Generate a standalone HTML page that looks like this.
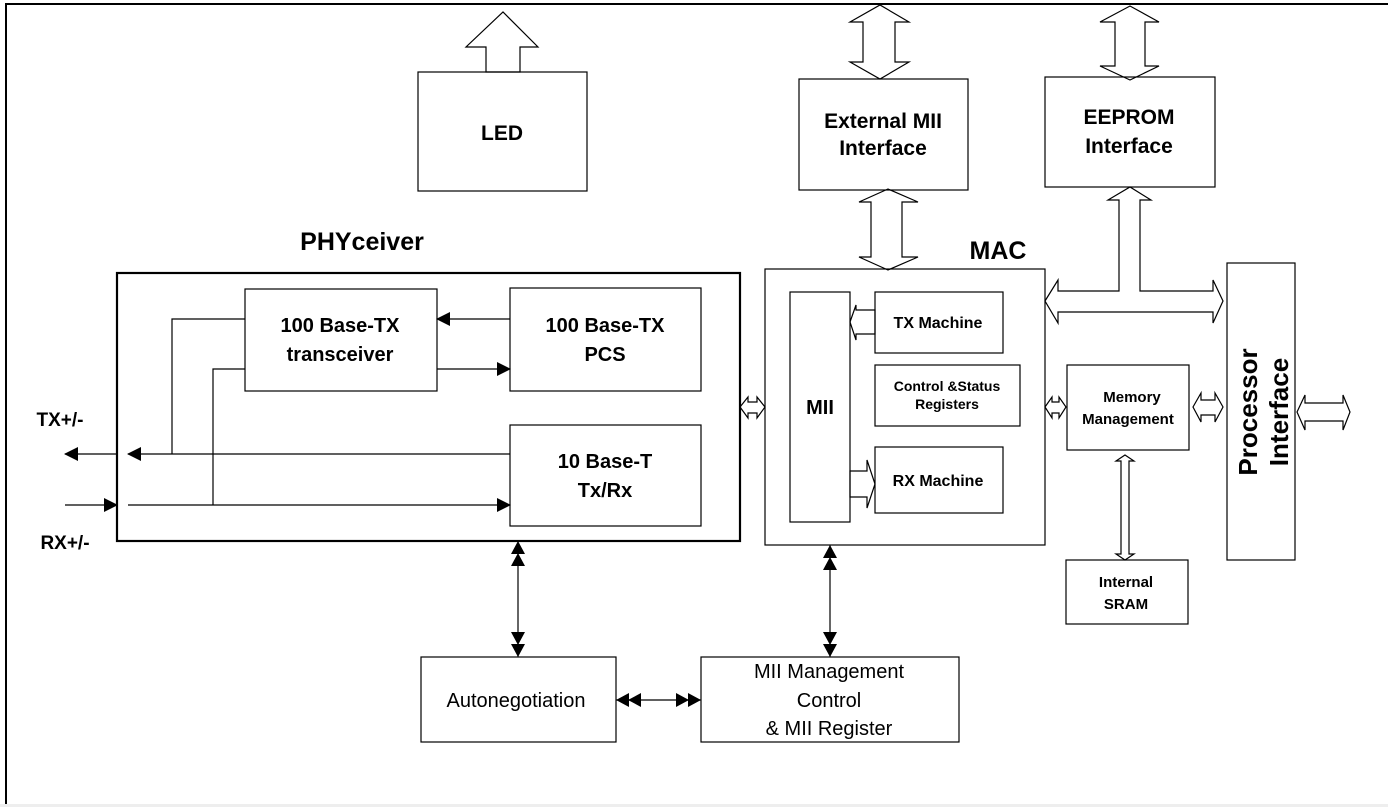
<!DOCTYPE html>
<html><head><meta charset="utf-8"><style>
html,body{margin:0;padding:0;background:#fff}
svg{display:block}
text{font-family:"Liberation Sans",Arial,sans-serif;fill:#000}
.b{font-weight:bold}
</style></head><body>
<svg width="1388" height="807" viewBox="0 0 1388 807" xmlns="http://www.w3.org/2000/svg">
<defs>
<marker id="ah" markerWidth="10" markerHeight="10" refX="9" refY="5" orient="auto" markerUnits="userSpaceOnUse"><path d="M0,0 L10,5 L0,10 z" fill="#000"/></marker>
<marker id="ahs" markerWidth="14" markerHeight="14" refX="13" refY="7" orient="auto" markerUnits="userSpaceOnUse"><path d="M0,0 L14,7 L0,14 z" fill="#000"/></marker>
<marker id="ah2" markerWidth="26" markerHeight="14" refX="25" refY="7" orient="auto" markerUnits="userSpaceOnUse"><path d="M0,0 L13,7 L0,14 z M12,0 L25,7 L12,14 z" fill="#000"/></marker>
</defs>
<!-- frame -->
<line x1="5" y1="4" x2="1388" y2="4" stroke="#000" stroke-width="2"/>
<line x1="6" y1="4" x2="6" y2="805" stroke="#000" stroke-width="2"/>
<rect x="0" y="804" width="1388" height="3" fill="#eee"/>

<g fill="#fff" stroke="#000" stroke-width="1.2">
<!-- LED arrow up -->
<polygon points="486,72 486,47 466,47 503,12 538,47 520,47 520,72"/>
<!-- Ext MII top bidir -->
<polygon points="863,22 850,22 880,5 909,22 895,22 895,62 909,62 880,79 850,62 863,62"/>
<!-- EEPROM top bidir -->
<polygon points="1115,22 1100,22 1130,6 1159,22 1145,22 1145,66 1159,66 1130,80 1100,66 1115,66"/>
<!-- Ext MII to MAC -->
<polygon points="871,202 859,202 888,189 918,202 902,202 902,257 918,257 888,270 859,257 871,257"/>
<!-- EEPROM bus T -->
<polygon points="1045,301 1058,280 1058,291 1119,291 1119,200 1108,200 1130,187 1151,200 1140,200 1140,291 1213,291 1213,280 1223,301 1213,323 1213,312 1058,312 1058,323"/>
<!-- PHY-MAC -->
<polygon points="740,407 748,397 748,402 757,402 757,397 765,407 757,418 757,413 748,413 748,418"/>
<!-- MAC-MemMgmt -->
<polygon points="1045,407 1052,397 1052,402 1059,402 1059,397 1066,407 1059,418 1059,413 1052,413 1052,418"/>
<!-- MemMgmt-Proc -->
<polygon points="1193,407 1201,393 1201,400 1215,400 1215,393 1223,407 1215,422 1215,415 1201,415 1201,422"/>
<!-- Proc-out -->
<polygon points="1297,412 1305,395 1305,403 1343,403 1343,395 1350,412 1343,430 1343,421 1305,421 1305,430"/>
<!-- MemMgmt-SRAM -->
<polygon points="1125,455 1134,461 1129,461 1129,554 1134,554 1125,560 1116,554 1121,554 1121,461 1116,461"/>
<!-- TX -> MII -->
<polygon points="850,322 856,305 856,310 875,310 875,334 856,334 856,340"/>
<!-- MII -> RX -->
<polygon points="850,471 867,471 867,460 875,484 867,508 867,497 850,497"/>
</g>

<g fill="none" stroke="#000" stroke-width="1.2">
<rect x="418" y="72" width="169" height="119"/>
<rect x="799" y="79" width="169" height="111"/>
<rect x="1045" y="77" width="170" height="110"/>
<rect x="765" y="269" width="280" height="276"/>
<rect x="1227" y="263" width="68" height="297"/>
<rect x="790" y="292" width="60" height="230"/>
<rect x="875" y="292" width="128" height="61"/>
<rect x="875" y="365" width="145" height="61"/>
<rect x="875" y="447" width="128" height="66"/>
<rect x="1067" y="365" width="122" height="85"/>
<rect x="1066" y="560" width="122" height="64"/>
<rect x="117" y="273" width="623" height="268" stroke-width="2.2"/>
<rect x="245" y="289" width="192" height="102"/>
<rect x="510" y="288" width="191" height="103"/>
<rect x="510" y="425" width="191" height="101"/>
<rect x="421" y="657" width="195" height="85"/>
<rect x="701" y="657" width="258" height="85"/>
</g>

<g fill="none" stroke="#000" stroke-width="1.2">
<line x1="510" y1="319" x2="437" y2="319" marker-end="url(#ahs)"/>
<line x1="437" y1="369" x2="510" y2="369" marker-end="url(#ahs)"/>
<polyline points="245,319 172,319 172,454"/>
<polyline points="245,369 213,369 213,505"/>
<line x1="510" y1="454" x2="128" y2="454" marker-end="url(#ahs)"/>
<line x1="117" y1="454" x2="65" y2="454" marker-end="url(#ahs)"/>
<line x1="65" y1="505" x2="117" y2="505" marker-end="url(#ahs)"/>
<line x1="128" y1="505" x2="510" y2="505" marker-end="url(#ahs)"/>
<line x1="518" y1="600" x2="518" y2="541" marker-end="url(#ah2)"/>
<line x1="518" y1="600" x2="518" y2="657" marker-end="url(#ah2)"/>
<line x1="830" y1="600" x2="830" y2="545" marker-end="url(#ah2)"/>
<line x1="830" y1="600" x2="830" y2="657" marker-end="url(#ah2)"/>
<line x1="658" y1="700" x2="616" y2="700" marker-end="url(#ah2)"/>
<line x1="658" y1="700" x2="701" y2="700" marker-end="url(#ah2)"/>
</g>

<g text-anchor="middle">
<text x="502" y="140" class="b" font-size="21">LED</text>
<text x="883" y="128" class="b" font-size="21">External MII</text>
<text x="883" y="155" class="b" font-size="21">Interface</text>
<text x="1129" y="124" class="b" font-size="21">EEPROM</text>
<text x="1129" y="153" class="b" font-size="21">Interface</text>
<text x="362" y="250" class="b" font-size="25">PHYceiver</text>
<text x="998" y="259" class="b" font-size="25">MAC</text>
<text x="340" y="332" class="b" font-size="20">100 Base-TX</text>
<text x="340" y="361" class="b" font-size="20">transceiver</text>
<text x="605" y="332" class="b" font-size="20">100 Base-TX</text>
<text x="605" y="361" class="b" font-size="20">PCS</text>
<text x="605" y="468" class="b" font-size="20">10 Base-T</text>
<text x="605" y="497" class="b" font-size="20">Tx/Rx</text>
<text x="60" y="426" class="b" font-size="19">TX+/-</text>
<text x="65" y="549" class="b" font-size="19">RX+/-</text>
<text x="820" y="414" class="b" font-size="20">MII</text>
<text x="938" y="328" class="b" font-size="16">TX Machine</text>
<text x="947" y="391" class="b" font-size="14">Control &amp;Status</text>
<text x="947" y="409" class="b" font-size="14">Registers</text>
<text x="938" y="486" class="b" font-size="16">RX Machine</text>
<text x="1132" y="402" class="b" font-size="15">Memory</text>
<text x="1128" y="424" class="b" font-size="15">Management</text>
<text x="1126" y="587" class="b" font-size="15">Internal</text>
<text x="1126" y="609" class="b" font-size="15">SRAM</text>
<text x="516" y="707" font-size="20">Autonegotiation</text>
<text x="829" y="678" font-size="20">MII Management</text>
<text x="829" y="707" font-size="20">Control</text>
<text x="829" y="735" font-size="20">&amp; MII Register</text>
<g transform="translate(1260,412) rotate(-90)">
<text x="0" y="-3" class="b" font-size="26">Processor</text>
<text x="0" y="28" class="b" font-size="26">Interface</text>
</g>
</g>
</svg>
</body></html>
